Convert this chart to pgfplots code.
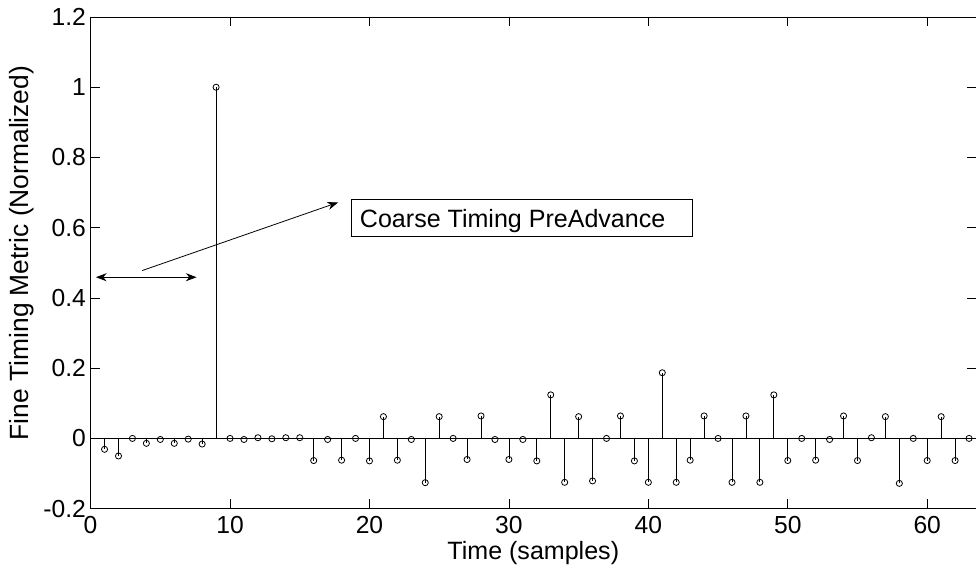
\documentclass[border=0pt]{standalone}
\usepackage{pgfplots}
\pgfplotsset{compat=1.18}
\usepackage{fontspec}
\setmainfont{Liberation Sans}
\usetikzlibrary{arrows.meta}
\begin{document}
\begin{tikzpicture}
\useasboundingbox (-68pt,-45pt) rectangle (664.5pt,381.75pt);
\begin{axis}[
  at={(0,0)}, anchor=south west,
  scale only axis, width=664.5pt, height=369pt,
  xmin=0, xmax=63.5, ymin=-0.2, ymax=1.2,
  xtick={0,10,20,30,40,50,60},
  xticklabels={0,10,20,30,40,50,60},
  ytick={-0.2,0,0.2,0.4,0.6,0.8,1,1.2},
  yticklabels={-0.2,0,0.2,0.4,0.6,0.8,1,1.2},
  tick pos=both, tick align=inside,
  major tick length=7pt,
  tick style={black, line width=0.5pt},
  axis line style={black, line width=0.6pt},
  ticklabel style={font=\fontsize{18.5}{21}\selectfont},
  xticklabel style={yshift=-2pt},
  label style={font=\fontsize{18.8}{21}\selectfont},
  xlabel={Time (samples)},
  ylabel={Fine Timing Metric (Normalized)},
  xlabel style={at={(axis description cs:0.5,-0.09)}, anchor=center},
  ylabel style={at={(axis description cs:-0.0775,0.52)}, anchor=center, font=\fontsize{19.8}{22}\selectfont},
  clip=false,
]
\addplot[black, line width=0.6pt, no marks] coordinates {(0,0) (63.5,0)};
\addplot[ycomb, black, line width=0.6pt, mark=o, mark size=2.3pt,
  mark options={line width=0.6pt, fill=none}] coordinates {
(1,-0.031) (2,-0.05) (3,0) (4,-0.014) (5,-0.003) (6,-0.014) (7,-0.002) (8,-0.016)
(9,1) (10,0) (11,-0.003) (12,0.002) (13,-0.001) (14,0.002) (15,0.002) (16,-0.063)
(17,-0.003) (18,-0.062) (19,0) (20,-0.064) (21,0.062) (22,-0.062) (23,-0.003) (24,-0.126)
(25,0.062) (26,0) (27,-0.06) (28,0.064) (29,-0.003) (30,-0.06) (31,-0.003) (32,-0.064)
(33,0.124) (34,-0.125) (35,0.062) (36,-0.121) (37,0) (38,0.064) (39,-0.064) (40,-0.125)
(41,0.187) (42,-0.125) (43,-0.062) (44,0.064) (45,0) (46,-0.125) (47,0.064) (48,-0.125)
(49,0.124) (50,-0.063) (51,0) (52,-0.062) (53,-0.003) (54,0.064) (55,-0.063) (56,0.002)
(57,0.062) (58,-0.128) (59,0) (60,-0.063) (61,0.062) (62,-0.063) (63,0)
};
\draw[black, line width=0.6pt, {Stealth[length=8pt,width=6pt,inset=2.5pt]}-{Stealth[length=8pt,width=6pt,inset=2.5pt]}]
  (axis cs:0.38,0.459) -- (axis cs:7.6,0.459);
\draw[black, line width=0.6pt, -{Stealth[length=8pt,width=6pt,inset=2.5pt]}]
  (axis cs:3.7,0.478) -- (axis cs:17.75,0.672);
\draw[black, line width=0.6pt] (axis cs:18.73,0.681) rectangle (axis cs:43.18,0.576);
\node[anchor=west, inner sep=0pt, font=\fontsize{18.8}{21}\selectfont] at (axis cs:19.3,0.62) {Coarse Timing PreAdvance};
\end{axis}
\end{tikzpicture}
\end{document}
